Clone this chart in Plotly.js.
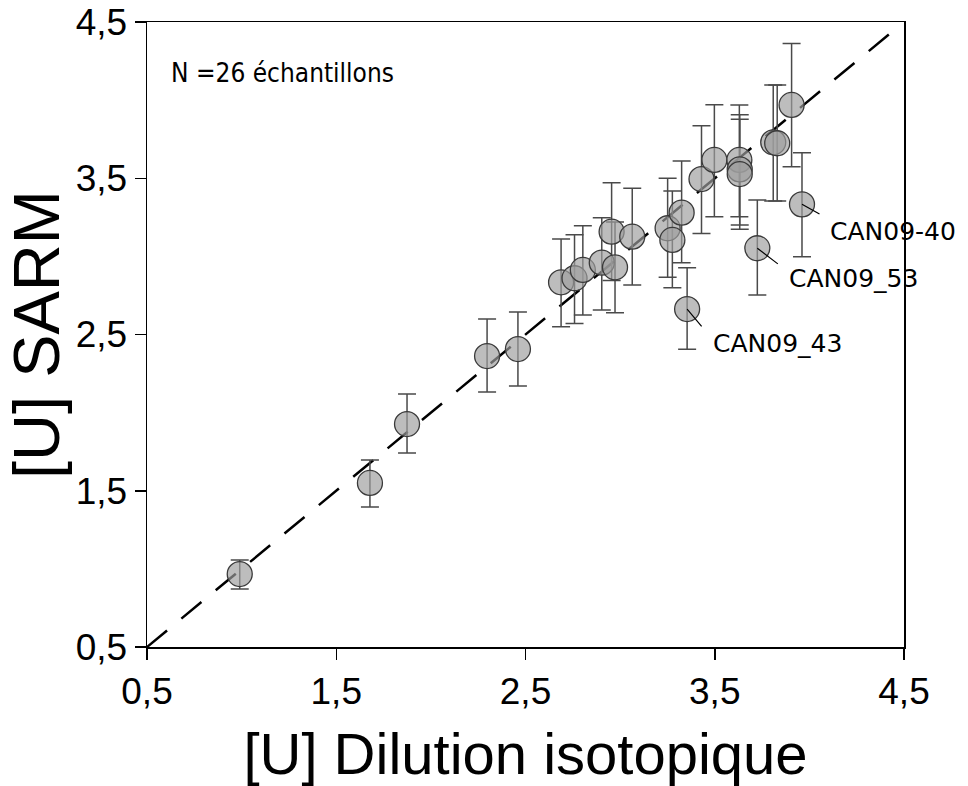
<!DOCTYPE html>
<html>
<head>
<meta charset="utf-8">
<script src="https://cdn.plot.ly/plotly-3.0.1.min.js"></script>
<style>html,body{margin:0;padding:0;background:#fff;}#chart{width:968px;height:786px;}</style>
</head>
<body>
<div id="chart"></div>
<script>
// [U] measured by isotope dilution (x) vs SARM (y)
const diluIso = [0.99, 1.678, 1.874, 2.297, 2.460, 2.688, 2.759, 2.803, 2.903, 2.973, 2.955, 3.064, 3.251, 3.276, 3.325, 3.354, 3.430, 3.498, 3.630, 3.632, 3.632, 3.725, 3.809, 3.830, 3.906, 3.961];
const sarm    = [0.967, 1.55, 1.927, 2.362, 2.407, 2.834, 2.86, 2.913, 2.96, 2.93, 3.158, 3.126, 3.18, 3.105, 3.28, 2.663, 3.495, 3.617, 3.617, 3.557, 3.527, 3.052, 3.73, 3.724, 3.969, 3.333];
const errPlus  = [0.09, 0.147, 0.192, 0.237, 0.237, 0.277, 0.279, 0.283, 0.288, 0.29, 0.314, 0.31, 0.32, 0.313, 0.33, 0.265, 0.341, 0.354, 0.352, 0.35, 0.35, 0.309, 0.367, 0.373, 0.394, 0.33];
const errMinus = [0.096, 0.154, 0.185, 0.23, 0.237, 0.284, 0.289, 0.288, 0.303, 0.29, 0.313, 0.309, 0.314, 0.305, 0.32, 0.258, 0.348, 0.363, 0.363, 0.356, 0.354, 0.299, 0.376, 0.37, 0.395, 0.335];
// 1:1 reference line
const lineX = [0.5, 4.42];
const lineY = [0.5, 4.42];
// tick values and labels
const tickVals = [0.5, 1.5, 2.5, 3.5, 4.5];
const tickText = ['0,5', '1,5', '2,5', '3,5', '4,5'];
// labelled outliers (index into the arrays above)
const labelIdx  = [25, 21, 15];
const labelText = ['CAN09-40', 'CAN09_53', 'CAN09_43'];
const countText = 'N =26 échantillons';

// pixel offsets: leader-line end, and text left/middle position
const leaderOffsets = [[18, 10], [21, 16], [15, 18]];
const textOffsets   = [[26, -27], [30, -30], [24, -34]];

const traces = [
  {
    x: lineX, y: lineY, type: 'scatter', mode: 'lines',
    line: {color: '#000', width: 2.5, dash: '26px,18.57px'},
    hoverinfo: 'skip', showlegend: false
  },
  {
    x: diluIso, y: sarm, type: 'scatter', mode: 'markers',
    marker: {size: 25, color: 'rgba(158,158,158,0.68)', line: {color: '#3a3a3a', width: 1.3}},
    error_y: {type: 'data', symmetric: false, array: errPlus, arrayminus: errMinus,
              color: '#4a4a4a', thickness: 1.5, width: 9},
    showlegend: false
  }
];

const annotations = [];
labelIdx.forEach((i, k) => {
  annotations.push({
    x: diluIso[i], y: sarm[i], xref: 'x', yref: 'y',
    text: ' ', showarrow: true, arrowhead: 0, arrowwidth: 1.2, arrowcolor: '#000',
    ax: leaderOffsets[k][0], ay: leaderOffsets[k][1], standoff: 0,
    font: {size: 1}, borderpad: 0
  });
  annotations.push({
    x: diluIso[i], y: sarm[i], xref: 'x', yref: 'y',
    text: labelText[k], showarrow: false,
    xshift: textOffsets[k][0], yshift: textOffsets[k][1],
    xanchor: 'left', yanchor: 'middle',
    font: {family: 'DejaVu Sans', size: 25, color: '#000'}
  });
});
annotations.push({
  xref: 'paper', yref: 'paper', x: 0.029, y: 0.918, xanchor: 'left', yanchor: 'middle',
  text: countText, showarrow: false,
  font: {family: 'DejaVu Sans Condensed, DejaVu Sans', size: 26, color: '#000'}
});

const axisCommon = {
  range: [0.5, 4.5], tickmode: 'array', tickvals: tickVals, ticktext: tickText,
  ticks: 'outside', ticklen: 11, tickwidth: 1.5, tickcolor: '#000',
  showline: true, linecolor: '#000', linewidth: 1.5, mirror: true,
  showgrid: false, zeroline: false,
  tickfont: {family: 'Liberation Sans Narrow, Liberation Sans', size: 37, color: '#000'}
};

const layout = {
  width: 968, height: 786,
  margin: {l: 147, r: 64, t: 22, b: 139},
  paper_bgcolor: '#fff', plot_bgcolor: '#fff',
  xaxis: Object.assign({}, axisCommon, {
    title: {text: '[U] Dilution isotopique', standoff: 22,
            font: {family: 'Liberation Sans', size: 58, color: '#000'}}
  }),
  yaxis: Object.assign({}, axisCommon, {
    title: {text: '[U] SARM', standoff: 10,
            font: {family: 'Liberation Sans', size: 65, color: '#000'}}
  }),
  annotations: annotations
};

Plotly.newPlot('chart', traces, layout, {displayModeBar: false, staticPlot: true});
</script>
</body>
</html>
